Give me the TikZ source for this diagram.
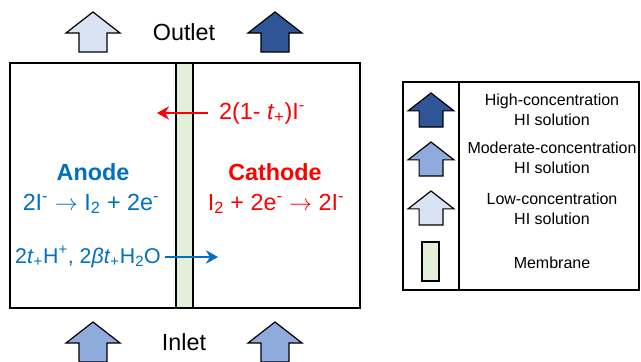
\documentclass[tikz,border=0pt]{standalone}
\usepackage{fontspec}
\setmainfont{Liberation Sans}
\usepackage{tikz}
\usetikzlibrary{arrows.meta, positioning}
\definecolor{hidark}{RGB}{47, 85, 151}
\definecolor{himid}{RGB}{143, 170, 220}
\definecolor{hilow}{RGB}{218, 227, 243}
\definecolor{memgreen}{RGB}{226, 240, 217}
\definecolor{anodeblue}{RGB}{0, 112, 192}
\definecolor{cathred}{RGB}{255, 0, 0}

\begin{document}
\begin{tikzpicture}[
        x=0.75pt, y=-0.75pt,
        big/.style={font=\fontsize{17.5}{21}\selectfont},
        leg/.style={font=\fontsize{12}{15}\selectfont, align=center},
        flow/.style={-{Stealth[length=9pt, width=10pt]}, line width=2.2pt},
        pics/uparrow/.style={code={
            \draw[pic actions, line width=0.9pt, line join=miter]
                (-14,0) -- (-14,-19) -- (-27,-19) -- (0,-40) -- (27,-19)
                -- (14,-19) -- (14,0) -- cycle;
        }},
    ]
        \useasboundingbox (0,0) rectangle (641,361);

        % cell
        \draw[line width=2.2pt] (10,63) rectangle (360,308);
        \draw[line width=2.2pt, fill=memgreen] (176,63) rectangle (193,308);

        % outlet / inlet
        \node[big] (outlet) at (184,32) {Outlet};
        \node[big] (inlet) at (184,342) {Inlet};
        \pic[fill=hilow] at (93,52) {uparrow};
        \pic[fill=hidark] at (275,52) {uparrow};
        \pic[fill=himid] at (93,362) {uparrow};
        \pic[fill=himid] at (275,362) {uparrow};

        % electrodes
        \node[big, anodeblue, font=\fontsize{17.5}{21}\bfseries] (anode) at (93,172) {Anode};
        \node[big, anodeblue, anchor=base] (anodeeq) at (91,210)
            {2I\textsuperscript{-} $\rightarrow$ I\textsubscript{2} + 2e\textsuperscript{-}};
        \node[big, cathred, font=\fontsize{17.5}{21}\bfseries] (cathode) at (275,172) {Cathode};
        \node[big, cathred, anchor=base] (cathodeeq) at (276,210)
            {I\textsubscript{2} + 2e\textsuperscript{-} $\rightarrow$ 2I\textsuperscript{-}};

        % ion transport
        \node[big, cathred] (iodide) at (262,113)
            {2(1- \textit{t}\textsubscript{+})I\textsuperscript{-}};
        \coordinate (redstart) at (208,113);
        \coordinate (redend) at (157,113);
        \draw[flow, cathred] (redstart) -- (redend);

        \node[big, anodeblue, font=\fontsize{16}{19}\selectfont, anchor=base] (proton) at (88,263)
            {2\textit{t}\textsubscript{+}H\textsuperscript{+}, 2\textit{β}\textit{t}\textsubscript{+}H\textsubscript{2}O};
        \coordinate (bluestart) at (165,257);
        \coordinate (blueend) at (218,257);
        \draw[flow, anodeblue] (bluestart) -- (blueend);

        % legend
        \draw[line width=1.5pt] (403,82) rectangle (639,290);
        \draw[line width=1.5pt] (459,82) -- (459,290);
        \pic[fill=hidark, scale=0.85] at (431,127) {uparrow};
        \pic[fill=himid, scale=0.85] at (431,176) {uparrow};
        \pic[fill=hilow, scale=0.85] at (431,225) {uparrow};
        \draw[line width=1.5pt, fill=memgreen] (422,242) rectangle (439,281);
        \node[leg] (high) at (552,110) {High-concentration\\HI solution};
        \node[leg] (moderate) at (552,158) {Moderate-concentration\\HI solution};
        \node[leg] (low) at (552,209) {Low-concentration\\HI solution};
        \node[leg] (membrane) at (552,263) {Membrane};
    \end{tikzpicture}
\end{document}
